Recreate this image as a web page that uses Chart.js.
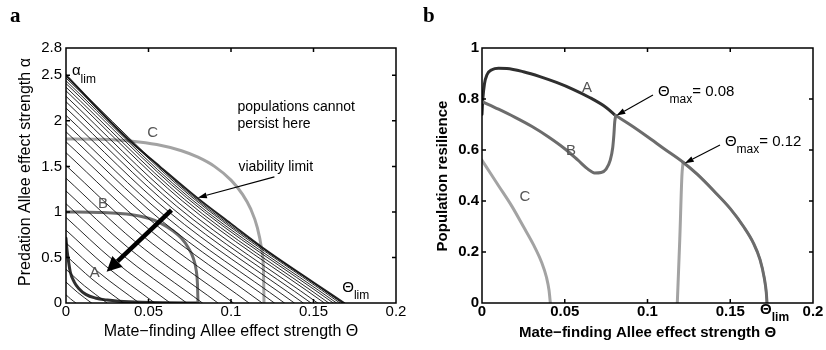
<!DOCTYPE html>
<html>
<head>
<meta charset="utf-8">
<script src="https://cdn.jsdelivr.net/npm/chart.js@4.4.1/dist/chart.umd.min.js"></script>
<style>
  html, body { margin: 0; padding: 0; background: #fff; }
  #wrap { position: relative; width: 826px; height: 350px; overflow: hidden; }
  .panel { position: absolute; top: 0; width: 413px; height: 350px; }
</style>
</head>
<body>
<div id="wrap">
  <div class="panel" style="left:0"><canvas id="panelA" width="413" height="350"></canvas></div>
  <div class="panel" style="left:413px"><canvas id="panelB" width="413" height="350"></canvas></div>
</div>
<script>
// ---------- axis ticks ----------
const thetaTicks = [0, 0.05, 0.1, 0.15, 0.2];
const thetaTickLabels = ['0', '0.05', '0.1', '0.15', '0.2'];
const alphaTicks = [0, 0.5, 1, 1.5, 2, 2.5, 2.8];
const alphaTickLabels = ['0', '0.5', '1', '1.5', '2', '2.5', '2.8'];
const resTicks = [0, 0.2, 0.4, 0.6, 0.8, 1];
const resTickLabels = ['0', '0.2', '0.4', '0.6', '0.8', '1'];

// ---------- panel a: viability limit ----------
const limitTheta = [0, 0.0375, 0.0568, 0.0798, 0.1, 0.119, 0.1505, 0.1686];
const limitAlpha = [2.5, 1.8, 1.5, 1.15, 0.87, 0.61, 0.22, 0];

// ---------- panel a: resilience contours (start on alpha axis, end on theta axis) ----------
const hatchStartAlpha = [0.09, 0.23, 0.37, 0.52, 0.66, 0.80, 0.94, 1.09, 1.23, 1.37, 1.51, 1.65, 1.77,
                         1.88, 1.97, 2.06, 2.14, 2.21, 2.27, 2.33, 2.37, 2.41, 2.44, 2.47, 2.49];
const hatchMidTheta   = [0.0027, 0.0070, 0.0112, 0.0157, 0.0200, 0.0242, 0.0284, 0.0329, 0.0372, 0.0414,
                         0.0457, 0.0499, 0.0535, 0.0568, 0.0596, 0.0623, 0.0647, 0.0668, 0.0686, 0.0705,
                         0.0717, 0.0729, 0.0738, 0.0747, 0.0753];
const hatchMidAlpha   = [0.046, 0.117, 0.188, 0.264, 0.334, 0.404, 0.473, 0.546, 0.614, 0.682, 0.749,
                         0.815, 0.874, 0.921, 0.961, 1.001, 1.036, 1.066, 1.094, 1.121, 1.140, 1.159,
                         1.172, 1.186, 1.195];
const hatchEndTheta   = [0.0060, 0.0155, 0.0249, 0.0349, 0.0444, 0.0538, 0.0632, 0.0732, 0.0827, 0.0921,
                         0.1015, 0.1109, 0.1189, 0.1263, 0.1324, 0.1384, 0.1438, 0.1485, 0.1525, 0.1566,
                         0.1593, 0.1620, 0.1640, 0.1660, 0.1673];

// ---------- panel a: parameter paths A, B, C ----------
const pathATheta = [0, 0.0005, 0.0012, 0.0026, 0.005, 0.0077, 0.012, 0.0177, 0.025, 0.032, 0.046, 0.06, 0.08];
const pathAAlpha = [0.71, 0.6, 0.5, 0.34, 0.23, 0.16, 0.095, 0.055, 0.032, 0.02, 0.008, 0.003, 0];
const pathBTheta = [0, 0.02, 0.04, 0.05, 0.057, 0.065, 0.07, 0.074, 0.077, 0.079, 0.0797, 0.08];
const pathBAlpha = [1, 0.995, 0.97, 0.93, 0.88, 0.79, 0.71, 0.61, 0.5, 0.35, 0.2, 0];
const pathCTheta = [0, 0.02, 0.04, 0.055, 0.07, 0.08, 0.09, 0.1, 0.107, 0.112, 0.116, 0.1185, 0.1197, 0.12];
const pathCAlpha = [1.8, 1.797, 1.777, 1.74, 1.672, 1.601, 1.5, 1.349, 1.193, 1.03, 0.826, 0.598, 0.35, 0];

// ---------- panel b: population resilience along each path ----------
const resATheta = [0, 0.0005, 0.0015, 0.003, 0.006, 0.01, 0.015, 0.025, 0.035, 0.045, 0.055, 0.065, 0.075, 0.0808];
const resA      = [0.74, 0.8, 0.86, 0.895, 0.915, 0.921, 0.92, 0.907, 0.888, 0.865, 0.838, 0.806, 0.767, 0.735];
const resBTheta = [0, 0.01, 0.02, 0.03, 0.04, 0.05, 0.058, 0.064, 0.068, 0.072, 0.075, 0.0775, 0.079, 0.0797, 0.0802, 0.0808];
const resB      = [0.79, 0.76, 0.728, 0.693, 0.652, 0.605, 0.56, 0.525, 0.51, 0.512, 0.525, 0.56, 0.61, 0.66, 0.71, 0.735];
const resBTailTheta = [0.0808, 0.09, 0.1, 0.11, 0.1215, 0.13, 0.14, 0.15, 0.158, 0.164, 0.168, 0.1705, 0.1718, 0.1722];
const resBTail      = [0.735, 0.697, 0.652, 0.605, 0.552, 0.505, 0.44, 0.37, 0.3, 0.235, 0.17, 0.1, 0.04, 0];
const resCTheta = [0, 0.005, 0.01, 0.018, 0.025, 0.031, 0.036, 0.039, 0.0405, 0.0413];
const resC      = [0.56, 0.51, 0.46, 0.38, 0.30, 0.23, 0.16, 0.10, 0.05, 0];
const resCRiseTheta = [0.118, 0.1195, 0.1208, 0.1215];
const resCRise      = [0, 0.25, 0.5, 0.552];
const resCTailTheta = [0.1215, 0.13, 0.14, 0.15, 0.158, 0.164, 0.168, 0.1705, 0.1718, 0.1722];
const resCTail      = [0.552, 0.505, 0.44, 0.37, 0.3, 0.235, 0.17, 0.1, 0.04, 0];

// ---------- styling ----------
const SANS = '"Liberation Sans", Arial, Helvetica, sans-serif';
const COL_A = '#2f2f2f', COL_B = '#6c6c6c', COL_C = '#a3a3a3', COL_LABEL = '#555';

function series(xs, ys, color, width) {
  return {
    data: xs.map((x, i) => ({ x: x, y: ys[i] })),
    showLine: true, borderColor: color, borderWidth: width, pointRadius: 0,
    cubicInterpolationMode: 'monotone', fill: false,
    borderCapStyle: 'round', borderJoinStyle: 'round'
  };
}

function drawArrow(ctx, x0, y0, x1, y1, width, head, halfW) {
  const ang = Math.atan2(y1 - y0, x1 - x0);
  const bx = x1 - head * Math.cos(ang), by = y1 - head * Math.sin(ang);
  ctx.strokeStyle = '#000'; ctx.fillStyle = '#000'; ctx.lineWidth = width; ctx.lineCap = 'butt';
  ctx.beginPath(); ctx.moveTo(x0, y0); ctx.lineTo(bx, by); ctx.stroke();
  const nx = -Math.sin(ang), ny = Math.cos(ang);
  ctx.beginPath();
  ctx.moveTo(x1, y1);
  ctx.lineTo(bx + nx * halfW, by + ny * halfW);
  ctx.lineTo(bx - nx * halfW, by - ny * halfW);
  ctx.closePath(); ctx.fill();
}

function drawSub(ctx, main, sub, x, y, font, subFont, color, rest) {
  ctx.fillStyle = color; ctx.textAlign = 'left'; ctx.textBaseline = 'middle';
  ctx.font = font; ctx.fillText(main, x, y);
  let cx = x + ctx.measureText(main).width;
  ctx.font = subFont; ctx.fillText(sub, cx, y + 8);
  cx += ctx.measureText(sub).width;
  if (rest) { ctx.font = font; ctx.fillText(rest, cx, y); }
}

function framePlugin(cfg) {
  return {
    id: 'frame' + cfg.panel,
    afterDatasetsDraw(chart) {
      const ctx = chart.ctx, a = chart.chartArea, xs = chart.scales.x, ys = chart.scales.y;
      ctx.save();
      cfg.extras(ctx, xs, ys, a);
      // box with inward ticks on all sides
      ctx.strokeStyle = '#000'; ctx.lineWidth = 1.5; ctx.lineCap = 'butt';
      ctx.strokeRect(a.left, a.top, a.right - a.left, a.bottom - a.top);
      ctx.beginPath();
      cfg.xTicks.forEach(v => {
        const px = xs.getPixelForValue(v);
        if (px > a.left + 1 && px < a.right - 1) {
          ctx.moveTo(px, a.bottom); ctx.lineTo(px, a.bottom - 4);
          ctx.moveTo(px, a.top); ctx.lineTo(px, a.top + 4);
        }
      });
      cfg.yTicks.forEach(v => {
        const py = ys.getPixelForValue(v);
        if (py > a.top + 1 && py < a.bottom - 1) {
          ctx.moveTo(a.left, py); ctx.lineTo(a.left + 4, py);
          ctx.moveTo(a.right, py); ctx.lineTo(a.right - 4, py);
        }
      });
      ctx.stroke();
      // tick labels
      ctx.fillStyle = '#000'; ctx.font = cfg.tickFont;
      ctx.textAlign = 'center'; ctx.textBaseline = 'middle';
      cfg.xTicks.forEach((v, i) => ctx.fillText(cfg.xLabels[i], xs.getPixelForValue(v), a.bottom + 9));
      ctx.textAlign = 'right';
      cfg.yTicks.forEach((v, i) => ctx.fillText(cfg.yLabels[i], a.left - cfg.yGap, ys.getPixelForValue(v)));
      // axis titles
      ctx.font = cfg.titleFont; ctx.textAlign = 'center';
      ctx.fillText(cfg.xTitle, (a.left + a.right) / 2, cfg.xTitleY);
      ctx.save();
      ctx.translate(cfg.yTitleX, cfg.yTitleY); ctx.rotate(-Math.PI / 2);
      ctx.fillText(cfg.yTitle, 0, 0);
      ctx.restore();
      // panel letter
      ctx.font = 'bold 21px "Liberation Serif", "Times New Roman", serif';
      ctx.textAlign = 'left'; ctx.textBaseline = 'alphabetic';
      ctx.fillText(cfg.panel, 10, 22);
      ctx.restore();
    }
  };
}

function baseOptions(padding, yMax) {
  return {
    responsive: false, animation: false, devicePixelRatio: 1,
    layout: { padding: padding },
    scales: {
      x: { type: 'linear', min: 0, max: 0.2, display: false },
      y: { type: 'linear', min: 0, max: yMax, display: false }
    },
    plugins: { legend: { display: false }, tooltip: { enabled: false } },
    events: []
  };
}

// ---------- panel a ----------
const hatchSets = hatchStartAlpha.map((a0, i) =>
  series([0, hatchMidTheta[i], hatchEndTheta[i]], [a0, hatchMidAlpha[i], 0], '#111', 0.9));

new Chart(document.getElementById('panelA'), {
  type: 'scatter',
  data: {
    datasets: hatchSets.concat([
      series(limitTheta, limitAlpha, '#222', 2),
      series(pathCTheta, pathCAlpha, COL_C, 3),
      series(pathBTheta, pathBAlpha, COL_B, 3),
      series(pathATheta, pathAAlpha, COL_A, 3)
    ])
  },
  options: baseOptions({ left: 66, right: 17, top: 48, bottom: 47 }, 2.8),
  plugins: [framePlugin({
    panel: 'a',
    xTicks: thetaTicks, xLabels: thetaTickLabels, yTicks: alphaTicks, yLabels: alphaTickLabels,
    tickFont: '15px ' + SANS, titleFont: '16px ' + SANS, yGap: 4,
    xTitle: 'Mate\u2212finding Allee effect strength \u0398', xTitleY: 332,
    yTitle: 'Predation Allee effect strength \u03b1', yTitleX: 26, yTitleY: 172,
    extras(ctx, xs, ys) {
      const X = v => xs.getPixelForValue(v), Y = v => ys.getPixelForValue(v);
      drawArrow(ctx, X(0.0639), Y(1.02), X(0.0246), Y(0.343), 4.5, 15, 7.5);
      drawArrow(ctx, X(0.1263), Y(1.385), X(0.0799), Y(1.157), 1.1, 9, 3);
      ctx.fillStyle = '#000'; ctx.font = '14px ' + SANS; ctx.textAlign = 'left'; ctx.textBaseline = 'middle';
      ctx.fillText('populations cannot', X(0.1039), Y(2.149));
      ctx.fillText('persist here', X(0.1039), Y(1.963));
      ctx.fillText('viability limit', X(0.1045), Y(1.491));
      ctx.fillStyle = COL_LABEL; ctx.font = '15px ' + SANS; ctx.textAlign = 'center';
      ctx.fillText('C', X(0.0526), Y(1.864));
      ctx.fillText('B', X(0.0224), Y(1.086));
      ctx.fillText('A', X(0.0175), Y(0.329));
      drawSub(ctx, '\u03b1', 'lim', X(0.0036), Y(2.544), '15px ' + SANS, '12px ' + SANS, '#000');
      drawSub(ctx, '\u0398', 'lim', X(0.1674), Y(0.164), '15px ' + SANS, '12px ' + SANS, '#000');
    }
  })]
});

// ---------- panel b ----------
new Chart(document.getElementById('panelB'), {
  type: 'scatter',
  data: {
    datasets: [
      series(resCTheta, resC, COL_C, 3),
      series(resBTailTheta, resBTail, COL_B, 3),
      series(resCRiseTheta, resCRise, COL_C, 3),
      series(resCTailTheta, resCTail, COL_C, 2.4),
      series(resBTheta, resB, COL_B, 3),
      series(resATheta, resA, COL_A, 3)
    ]
  },
  options: baseOptions({ left: 69, right: 13, top: 48, bottom: 47 }, 1),
  plugins: [framePlugin({
    panel: 'b',
    xTicks: thetaTicks, xLabels: thetaTickLabels, yTicks: resTicks, yLabels: resTickLabels,
    tickFont: 'bold 15px ' + SANS, titleFont: 'bold 15px ' + SANS, yGap: 3,
    xTitle: 'Mate\u2212finding Allee effect strength \u0398', xTitleY: 333,
    yTitle: 'Population resilience', yTitleX: 30, yTitleY: 176,
    extras(ctx, xs, ys, a) {
      const X = v => xs.getPixelForValue(v), Y = v => ys.getPixelForValue(v);
      drawArrow(ctx, X(0.1033), Y(0.816), X(0.0812), Y(0.735), 1.1, 9, 3);
      drawArrow(ctx, X(0.1438), Y(0.620), X(0.1225), Y(0.548), 1.1, 9, 3);
      ctx.fillStyle = COL_LABEL; ctx.font = '15px ' + SANS; ctx.textAlign = 'center'; ctx.textBaseline = 'middle';
      ctx.fillText('A', X(0.0634), Y(0.843));
      ctx.fillText('B', X(0.0538), Y(0.596));
      ctx.fillText('C', X(0.026), Y(0.416));
      drawSub(ctx, '\u0398', 'max', X(0.1063), Y(0.827), '15px ' + SANS, '12px ' + SANS, '#000', '= 0.08');
      drawSub(ctx, '\u0398', 'max', X(0.1468), Y(0.631), '15px ' + SANS, '12px ' + SANS, '#000', '= 0.12');
      drawSub(ctx, '\u0398', 'lim', X(0.168), a.bottom + 7, 'bold 15px ' + SANS, 'bold 12px ' + SANS, '#000');
    }
  })]
});
</script>
</body>
</html>
